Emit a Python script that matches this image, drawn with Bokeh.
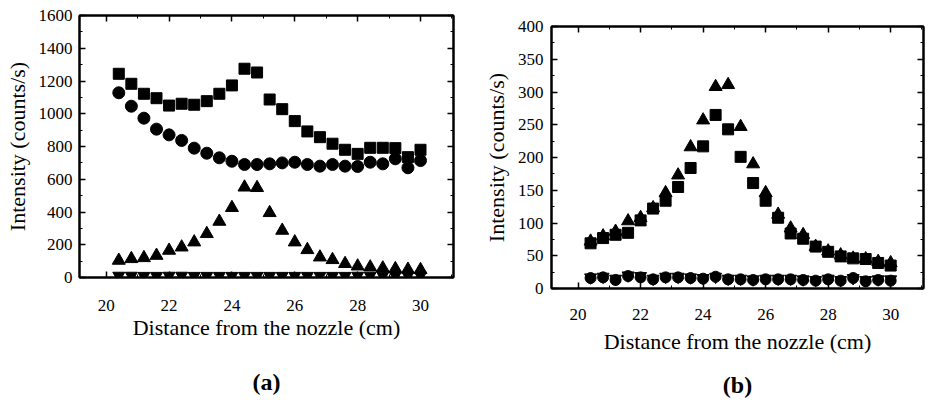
from bokeh.plotting import figure
from bokeh.models import FixedTicker, LinearAxis, Range1d
from bokeh.layouts import row
from bokeh.embed import file_html
from bokeh.resources import INLINE

# ---------------- data ----------------
distance = [20.4, 20.8, 21.2, 21.6, 22.0, 22.4, 22.8, 23.2, 23.6, 24.0, 24.4, 24.8, 25.2,
            25.6, 26.0, 26.4, 26.8, 27.2, 27.6, 28.0, 28.4, 28.8, 29.2, 29.6, 30.0]

# panel (a)
a_square = [1244, 1183, 1122, 1095, 1050, 1061, 1055, 1077, 1122, 1173, 1275, 1252, 1087,
            1028, 955, 892, 857, 817, 780, 755, 792, 792, 790, 735, 780]
a_circle = [1128, 1046, 973, 906, 871, 837, 790, 759, 731, 710, 690, 690, 694,
            700, 704, 690, 680, 690, 680, 678, 704, 694, 725, 670, 714]
a_triangle = [104, 114, 120, 134, 165, 185, 216, 267, 342, 426, 551, 548, 395,
              287, 216, 169, 124, 108, 84, 69, 63, 57, 53, 49, 47]
a_invtri = [11, 11, 10, 10, 11, 11, 10, 10, 10, 10, 10, 10, 10, 10, 10, 10, 10, 10, 10,
            11, 11, 11, 11, 11, 11]

# panel (b)
b_square = [69, 77, 82, 85, 104, 122, 134, 155, 184, 217, 265, 243, 201,
            161, 134, 108, 84, 76, 64, 56, 49, 46, 45, 39, 35]
b_triangle = [72, 80, 87, 103, 108, 123, 146, 173, 216, 257, 308, 311, 247,
              190, 146, 113, 92, 82, 64, 57, 51, 46, 45, 41, 39]
b_circle = [16, 17, 13, 19, 17, 14, 17, 17, 16, 15, 18, 14, 14,
            13, 14, 14, 14, 13, 12, 14, 12, 16, 11, 13, 12]
b_invtri = [17, 18, 15, 20, 19, 15, 18, 18, 17, 16, 18, 15, 15,
            14, 15, 15, 15, 14, 13, 15, 13, 16, 13, 14, 14]

x_ticks = [20, 22, 24, 26, 28, 30]
x_minor = [19, 20, 21, 22, 23, 24, 25, 26, 27, 28, 29, 30, 31]
a_yticks = [0, 200, 400, 600, 800, 1000, 1200, 1400, 1600]
a_yminor = [0, 100, 200, 300, 400, 500, 600, 700, 800, 900, 1000, 1100, 1200, 1300, 1400, 1500, 1600]
b_yticks = [0, 50, 100, 150, 200, 250, 300, 350, 400]
b_yminor = [0, 25, 50, 75, 100, 125, 150, 175, 200, 225, 250, 275, 300, 325, 350, 375, 400]

FONT = "Liberation Serif"
X_TITLE = "Distance from the nozzle (cm)"
Y_TITLE = "Intensity (counts/s)"


def style_axis(ax, ticks, minor, labelled):
    ax.ticker = FixedTicker(ticks=ticks, minor_ticks=minor)
    ax.axis_line_color = "black"
    ax.axis_line_width = 2
    ax.major_tick_in = 6
    ax.major_tick_out = 0
    ax.minor_tick_in = 3
    ax.minor_tick_out = 0
    ax.major_tick_line_color = "black"
    ax.minor_tick_line_color = "black"
    ax.major_tick_line_width = 1.5
    ax.minor_tick_line_width = 1
    ax.major_label_text_font = FONT
    ax.major_label_text_color = "black"
    ax.axis_label_text_font = FONT
    ax.axis_label_text_font_style = "normal"
    ax.axis_label_text_color = "black"
    if not labelled:
        ax.major_label_overrides = {t: "" for t in ticks}
        ax.major_label_standoff = 0
        ax.major_label_text_font_size = "1px"


def panel(ymax, yticks, yminor, borders, series, tag, tag_standoff,
          xlab_standoff, xtitle_standoff, ylab_standoff):
    bl, br = borders
    # both panels share the same vertical borders (Bokeh aligns plots in a row)
    p = figure(width=464, height=404, output_backend="svg", toolbar_location=None,
               x_range=Range1d(19.15, 31.05), y_range=Range1d(0, ymax),
               min_border_left=bl, min_border_right=br, min_border_top=15,
               min_border_bottom=127)
    p.grid.visible = False
    p.outline_line_color = "black"
    p.outline_line_width = 2
    p.background_fill_color = "white"
    p.border_fill_color = "white"

    xa = p.xaxis[0]
    style_axis(xa, x_ticks, x_minor, True)
    xa.major_label_text_font_size = "17px"
    xa.major_label_standoff = xlab_standoff
    xa.axis_label = X_TITLE
    xa.axis_label_text_font_size = "22px"
    xa.axis_label_standoff = xtitle_standoff

    ya = p.yaxis[0]
    style_axis(ya, yticks, yminor, True)
    ya.major_label_text_font_size = "17px"
    ya.major_label_standoff = ylab_standoff
    ya.axis_label = Y_TITLE
    ya.axis_label_text_font_size = "22px"
    ya.axis_label_standoff = 6

    top = LinearAxis()
    style_axis(top, x_ticks, x_minor, False)
    p.add_layout(top, "above")
    right = LinearAxis()
    style_axis(right, yticks, yminor, False)
    p.add_layout(right, "right")

    # panel tag "(a)" / "(b)" drawn as the label of a bare axis below the x axis
    tag_axis = LinearAxis(ticker=FixedTicker(ticks=[]), axis_label=tag,
                          axis_line_color=None, major_tick_line_color=None,
                          minor_tick_line_color=None, major_label_standoff=0,
                          major_tick_out=0, minor_tick_out=0,
                          axis_label_standoff=tag_standoff,
                          axis_label_text_font=FONT, axis_label_text_font_size="24px",
                          axis_label_text_font_style="bold", axis_label_text_color="black")
    p.add_layout(tag_axis, "below")

    for vals, marker, size in series:
        p.scatter(distance, vals, marker=marker, size=size,
                  fill_color="black", line_color="black")
    return p


pa = panel(1600, a_yticks, a_yminor, (79, 11),
           [(a_square, "square", 11), (a_circle, "circle", 12),
            (a_triangle, "triangle", 13), (a_invtri, "inverted_triangle", 12)],
           "(a)", 26, 22, 1, 7)
pb = panel(400, b_yticks, b_yminor, (87, 5),
           [(b_square, "square", 11), (b_triangle, "triangle", 13),
            (b_circle, "circle", 11), (b_invtri, "inverted_triangle", 12)],
           "(b)", 15, 20, 6, 8)
# panel (b) sits 11 px lower than panel (a) in the original figure
pb.styles = {"transform": "translateY(11px)"}

layout = row(pa, pb)
layout.styles = {"overflow": "hidden"}
open("out.html", "w").write(file_html(layout, INLINE))
